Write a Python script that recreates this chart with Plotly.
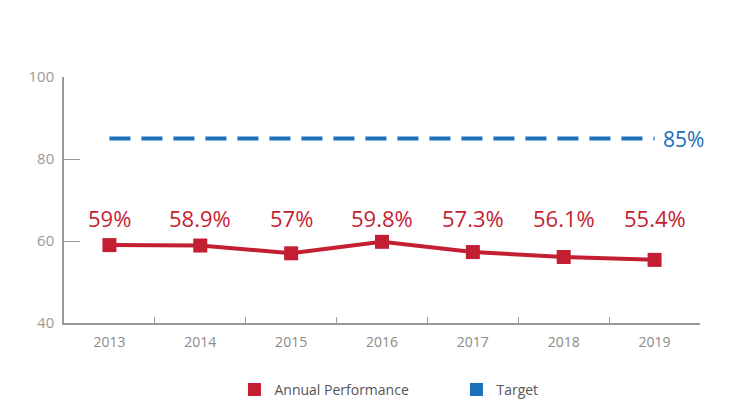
import plotly.graph_objects as go

# ------------------ Data ------------------
years = ["2013", "2014", "2015", "2016", "2017", "2018", "2019"]
performance = [59, 58.9, 57, 59.8, 57.3, 56.1, 55.4]
perf_labels = ["59%", "58.9%", "57%", "59.8%", "57.3%", "56.1%", "55.4%"]
target = [85, 85, 85, 85, 85, 85, 85]
target_label = "85%"
y_ticks = [40, 60, 80, 100]

RED = "#c41e33"
BLUE = "#1a6fba"
GREY = "#9a9a9a"
FONT = "Open Sans"

fig = go.Figure()

# target dashed line
fig.add_trace(go.Scatter(
    x=years, y=target, mode="lines",
    line=dict(color=BLUE, width=4, dash="21px,11px"),
    showlegend=False, hoverinfo="skip",
))

# annual performance line with square markers
fig.add_trace(go.Scatter(
    x=years, y=performance, mode="lines+markers",
    line=dict(color=RED, width=4),
    marker=dict(symbol="square", size=14, color=RED),
    showlegend=False,
))

# legend-only entries (square swatches)
fig.add_trace(go.Scatter(
    x=[None], y=[None], mode="markers", name="Annual Performance",
    marker=dict(symbol="square", size=13, color=RED),
))
fig.add_trace(go.Scatter(
    x=[None], y=[None], mode="markers", name="Target",
    marker=dict(symbol="square", size=13, color=BLUE),
))

# value labels: one row above the line
for i, lab in enumerate(perf_labels):
    fig.add_annotation(
        x=i, y=0.427, yref="paper", text=lab, showarrow=False,
        yanchor="middle",
        font=dict(family=FONT, size=22, color=RED),
    )
fig.add_annotation(
    x=len(years) - 1, y=target[-1], text=target_label, showarrow=False,
    xanchor="left", xshift=6,
    font=dict(family=FONT, size=21, color=BLUE),
)

fig.update_layout(
    width=745, height=402,
    margin=dict(l=64, r=45, t=77, b=79, autoexpand=False),
    paper_bgcolor="white", plot_bgcolor="white",
    font=dict(family=FONT, color=GREY),
    legend=dict(
        orientation="h", x=0.268, xanchor="left", y=-0.272, yanchor="middle",
        font=dict(family=FONT, size=14, color="#555555"),
        entrywidth=177, entrywidthmode="pixels",
    ),
)
fig.update_xaxes(
    type="category", range=[-0.5, 6.5],
    showline=True, linecolor=GREY, linewidth=1.5,
    ticks="inside", tickson="boundaries", ticklen=6, tickcolor=GREY,
    showgrid=False, zeroline=False, ticklabelstandoff=5,
    tickfont=dict(family=FONT, size=14, color="#8a8a8a"),
)
fig.update_yaxes(
    range=[40, 100], tickvals=y_ticks,
    showline=True, linecolor=GREY, linewidth=1.5,
    ticks="inside", ticklen=16, tickcolor=GREY,
    showgrid=False, zeroline=False, ticklabelstandoff=5,
    tickfont=dict(family=FONT, size=15, color="#9a9a9a"),
)

fig.write_html(
    "out.html",
    config={"displayModeBar": False},
    post_script="document.body.style.margin='0';",
)
